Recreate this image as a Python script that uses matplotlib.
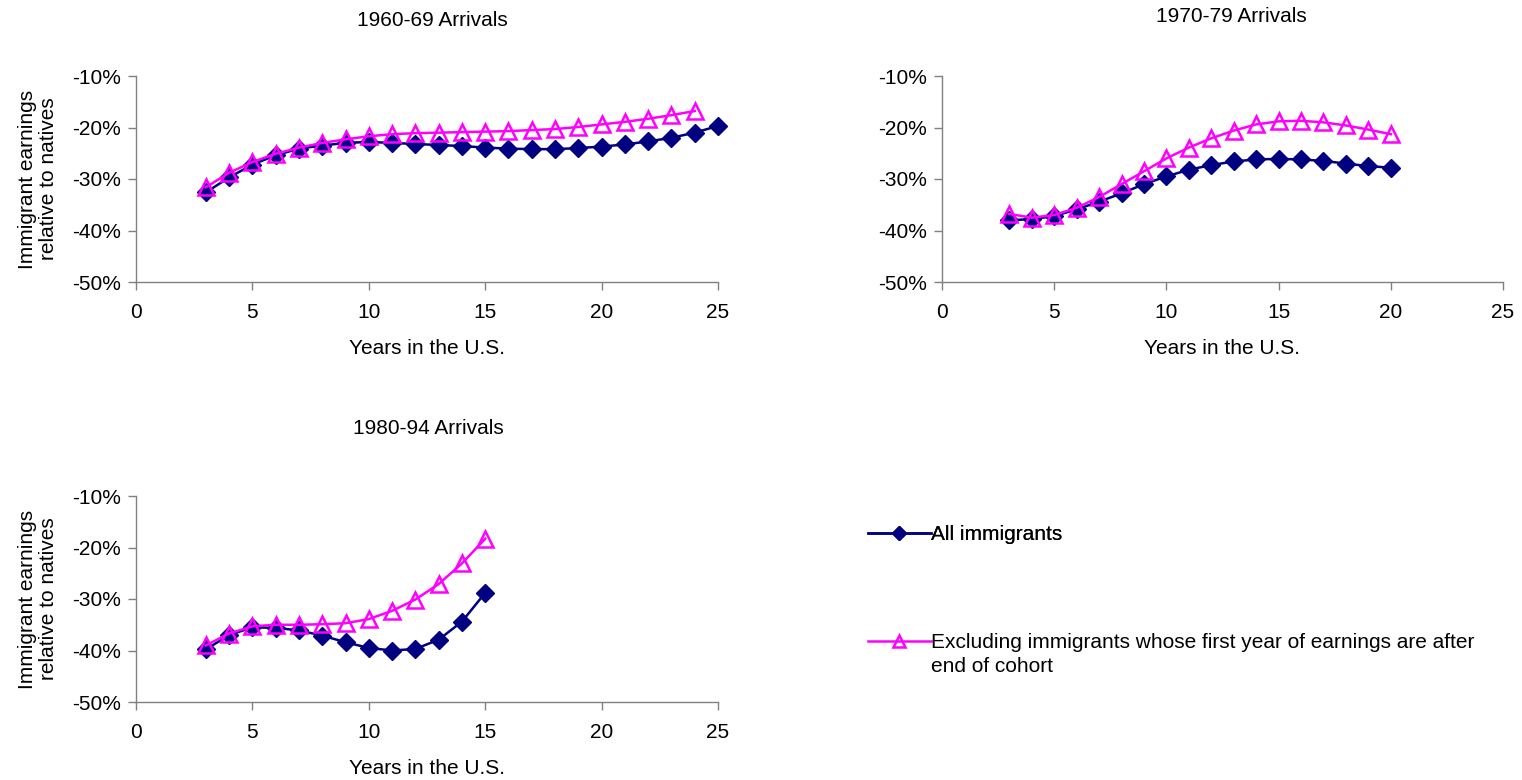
import numpy as np
import matplotlib
matplotlib.use("Agg")
import matplotlib.pyplot as plt
from matplotlib.ticker import FuncFormatter

plt.rcParams['font.family'] = ['Liberation Sans', 'DejaVu Sans']
plt.rcParams['font.size'] = 15

# years in the U.S.
years_60s = list(range(3, 26))
years_60s_excl = list(range(3, 25))
years_70s = list(range(3, 21))
years_80s = list(range(3, 16))

# immigrant earnings relative to natives, percent
all_60s = [-32.6, -29.7, -27.2, -25.4, -24.1, -23.5, -23.0, -22.8, -23.0, -23.2,
           -23.4, -23.6, -23.9, -24.1, -24.2, -24.2, -24.0, -23.7, -23.3, -22.7,
           -22.0, -21.0, -19.7]
excl_60s = [-31.6, -28.8, -26.7, -25.1, -23.9, -23.0, -22.3, -21.7, -21.3, -21.1,
            -21.0, -20.9, -20.8, -20.7, -20.5, -20.3, -19.9, -19.4, -18.9, -18.3,
            -17.6, -16.8]
all_70s = [-38.0, -37.8, -37.2, -35.9, -34.4, -32.8, -31.0, -29.5, -28.2, -27.3,
           -26.6, -26.2, -26.1, -26.2, -26.5, -27.0, -27.5, -27.8]
excl_70s = [-36.8, -37.5, -37.0, -35.6, -33.5, -31.0, -28.5, -26.0, -23.9, -22.1,
            -20.6, -19.4, -18.8, -18.7, -19.0, -19.6, -20.4, -21.3]
all_80s = [-39.8, -37.0, -35.5, -35.6, -36.1, -37.1, -38.4, -39.5, -40.0, -39.7,
           -37.9, -34.4, -28.8]
excl_80s = [-39.0, -36.7, -35.3, -35.0, -35.0, -34.9, -34.7, -33.9, -32.3, -30.1,
            -27.1, -23.1, -18.3]

panel_titles = ["1960-69 Arrivals", "1970-79 Arrivals", "1980-94 Arrivals"]
label_all = "All immigrants"
label_excl = ["Excluding immigrants whose first year of earnings are after",
              "end of cohort"]

NAVY = "#000080"
PINK = "#FF00FF"
GREY = "#808080"

W, H = 1522, 780
fig = plt.figure(figsize=(W / 100, H / 100), dpi=100)


def px_box(left, top, right, bottom):
    return [left / W, 1 - bottom / H, (right - left) / W, (bottom - top) / H]


def setup_axes(ax, ylabel=True):
    ax.set_xlim(0, 25)
    ax.set_ylim(-50, -10)
    ax.set_xticks(range(0, 26, 5))
    ax.set_yticks(range(-50, -9, 10))
    ax.yaxis.set_major_formatter(FuncFormatter(lambda v, p: "%d%%" % v))
    for s in ["top", "right"]:
        ax.spines[s].set_visible(False)
    for s in ["left", "bottom"]:
        ax.spines[s].set_color(GREY)
        ax.spines[s].set_linewidth(1.0)
    ax.tick_params(axis="both", direction="out", length=6, color=GREY, width=1.0)
    ax.tick_params(axis="y", pad=5)
    ax.tick_params(axis="x", pad=9)
    ax.set_xlabel("Years in the U.S.", labelpad=12)
    if ylabel:
        ax.set_ylabel("Immigrant earnings\nrelative to natives", labelpad=10,
                      linespacing=1.15)


def draw(ax, xa, a, xe, e):
    ax.plot(xa, a, color=NAVY, lw=1.8, marker="D", ms=9.5, mfc=NAVY, mec=NAVY,
            label=label_all, clip_on=False)
    ax.plot(xe, e, color=PINK, lw=1.8, marker="^", ms=12, mfc="none", mec=PINK,
            mew=1.8, label=label_excl[0], clip_on=False)


ax1 = fig.add_axes(px_box(136, 76, 718, 282))
setup_axes(ax1)
draw(ax1, years_60s, all_60s, years_60s_excl, excl_60s)

ax2 = fig.add_axes(px_box(942, 76, 1503, 282))
setup_axes(ax2, ylabel=False)
draw(ax2, years_70s, all_70s, years_70s, excl_70s)

ax3 = fig.add_axes(px_box(136, 496, 718, 702))
setup_axes(ax3)
draw(ax3, years_80s, all_80s, years_80s, excl_80s)

fig.text(432 / W, 1 - 20 / H, panel_titles[0], ha="center", va="center")
fig.text(1231 / W, 1 - 17 / H, panel_titles[1], ha="center", va="center")
fig.text(428 / W, 1 - 428 / H, panel_titles[2], ha="center", va="center")

handles, labels = ax3.get_legend_handles_labels()
leg_kw = dict(loc="center left", frameon=False, handlelength=3.0,
              handletextpad=0.0, markerscale=0.7, borderpad=0, borderaxespad=0)
leg1 = fig.legend([handles[0]], [labels[0]],
                  bbox_to_anchor=(868 / W, 1 - 535 / H), **leg_kw)
leg2 = fig.legend([handles[1]], [labels[1]],
                  bbox_to_anchor=(868 / W, 1 - 643 / H), **leg_kw)
fig.add_artist(leg1)

# second line of the wrapped legend label, aligned under the first
fig.canvas.draw()
tb = leg2.get_texts()[0].get_window_extent()
fig.text(tb.x0 / W, 1 - 667 / H, label_excl[1], ha="left", va="center")

fig.savefig("out.png", dpi=100)
